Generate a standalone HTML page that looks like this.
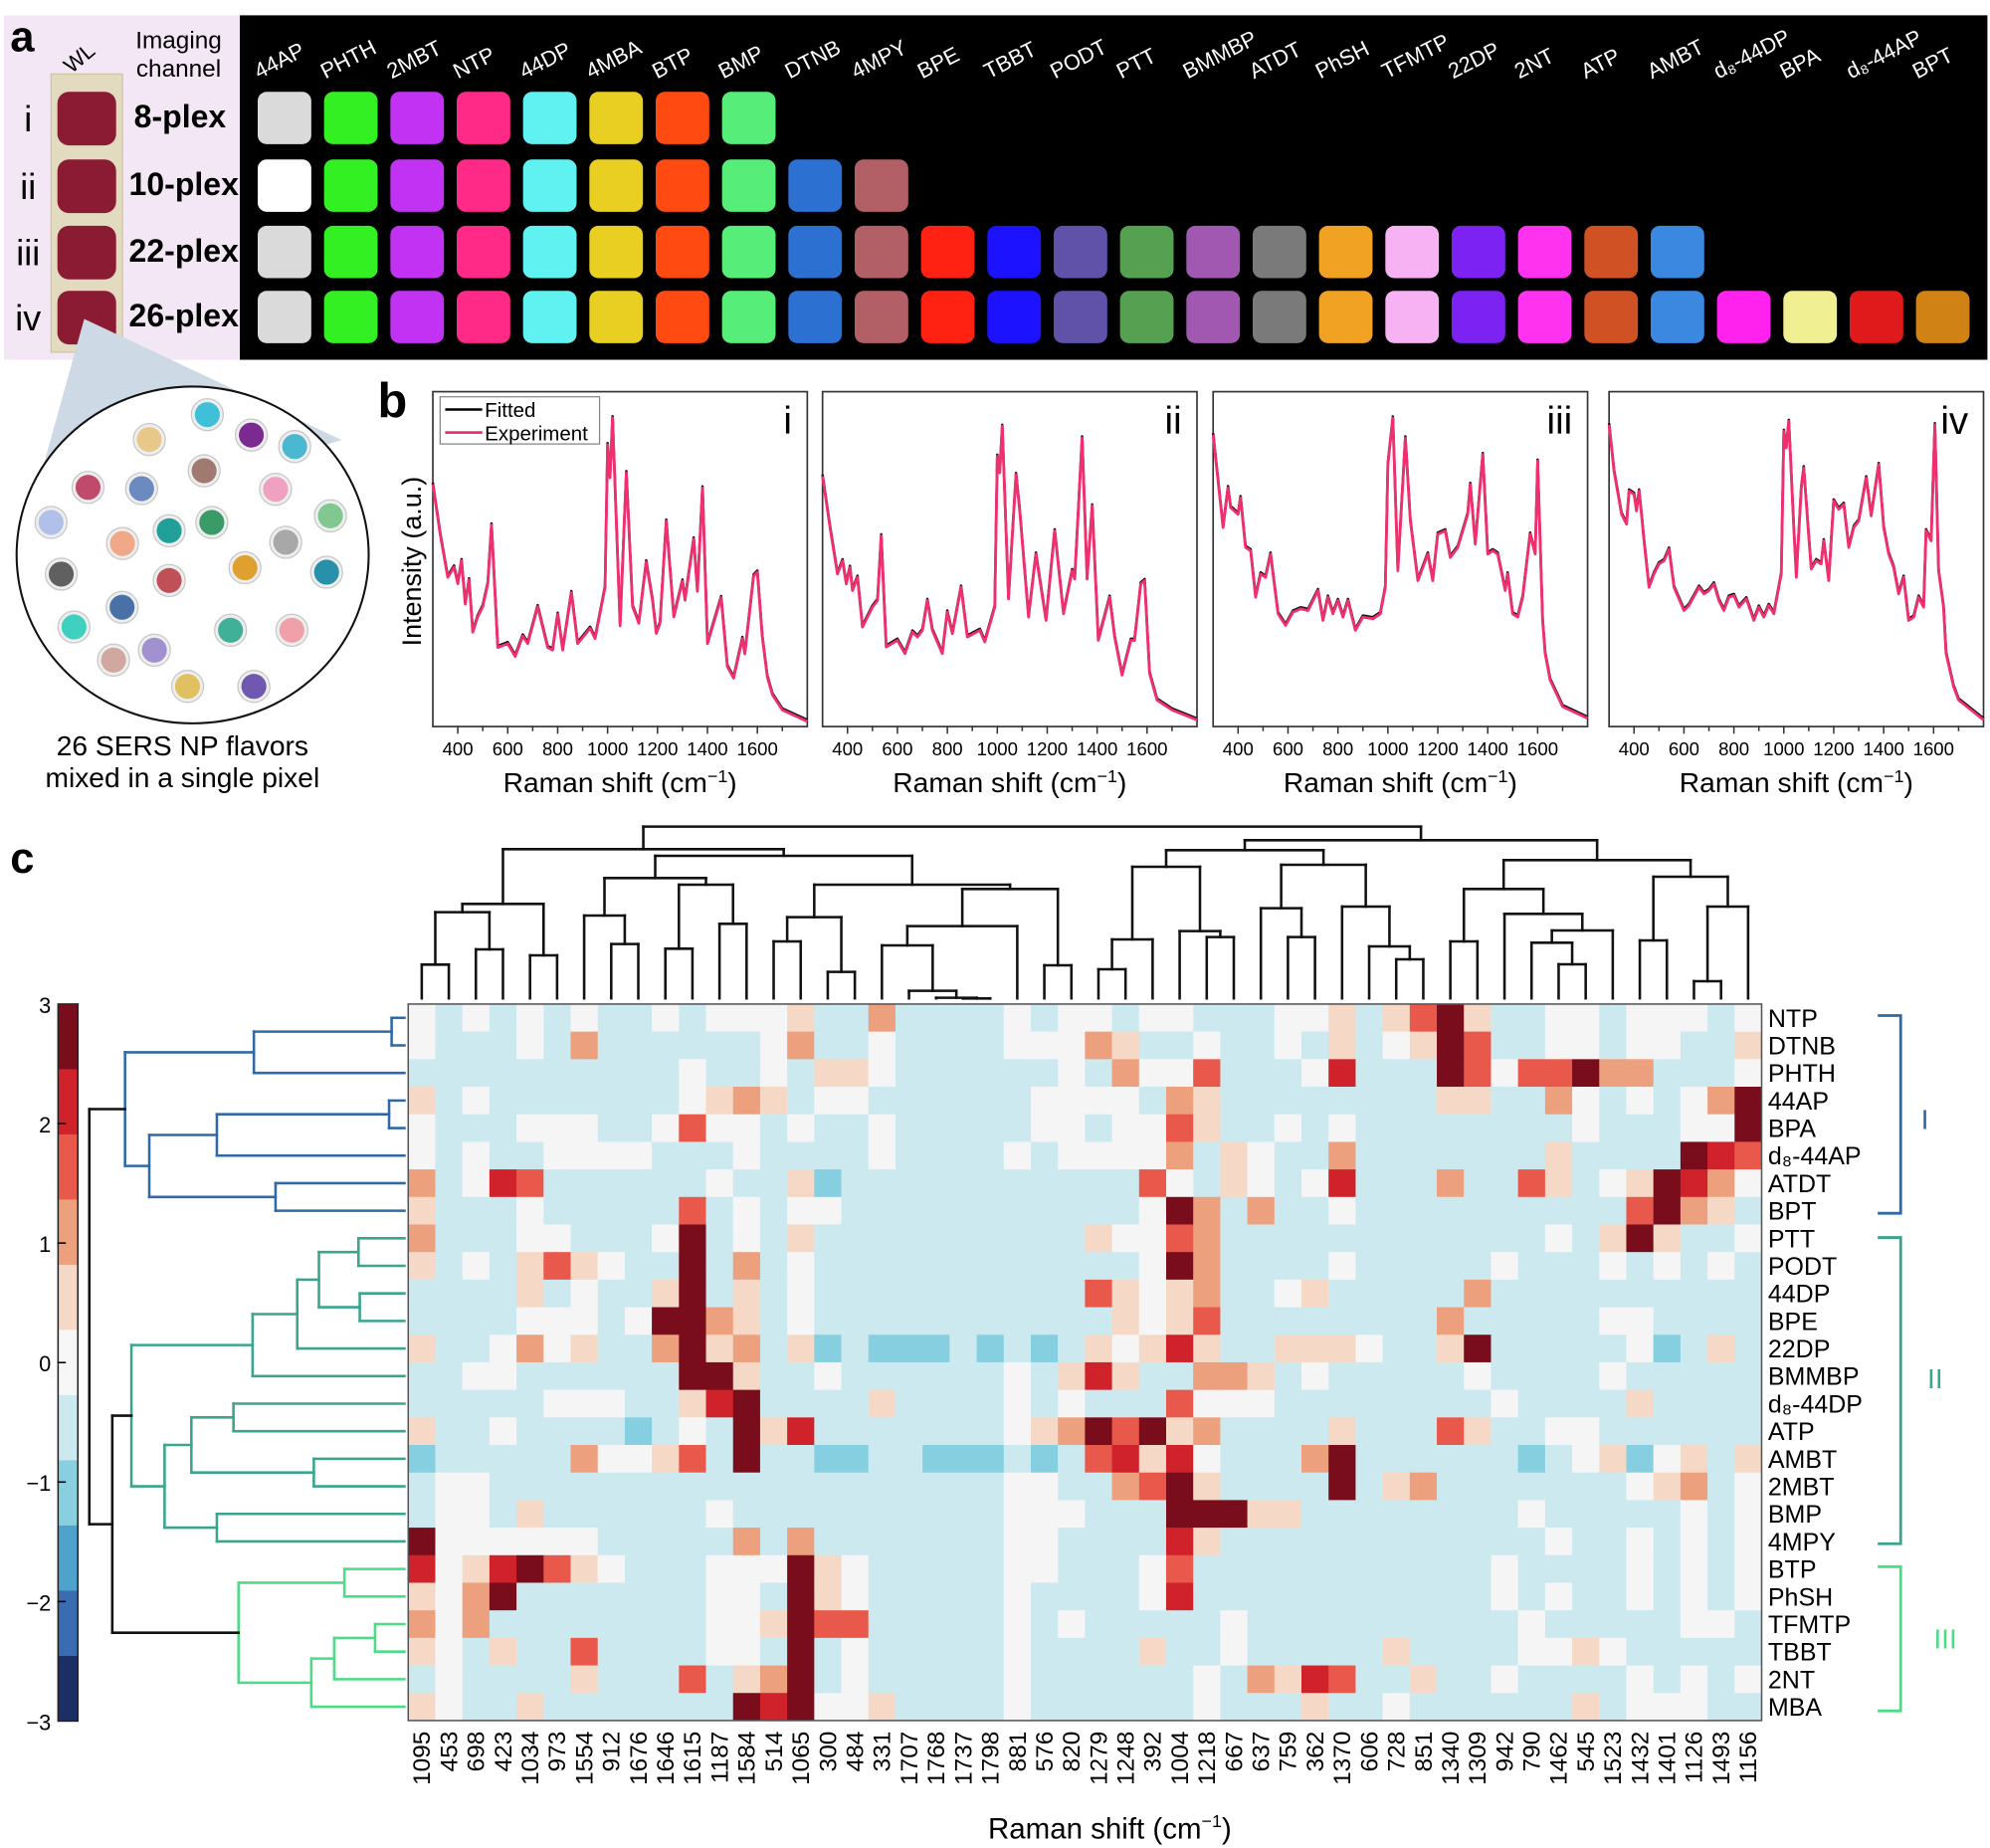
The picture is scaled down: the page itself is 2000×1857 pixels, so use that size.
<!DOCTYPE html>
<html><head><meta charset="utf-8"><style>
html,body{margin:0;padding:0;background:#fff;}
svg{display:block;font-family:"Liberation Sans",Arial,sans-serif;}
</style></head><body>
<svg id="s" xmlns="http://www.w3.org/2000/svg" width="2000" height="1857" viewBox="0 0 1560 1448.5">
<rect x="0" y="0" width="1560" height="1448.5" fill="#fff"/>
</svg>
<script>
(function(){
const NS="http://www.w3.org/2000/svg";const S=document.getElementById('s');
function el(t,a,txt,p){const e=document.createElementNS(NS,t);for(const k in a)e.setAttribute(k,a[k]);if(txt!==undefined&&txt!==null)e.textContent=txt;(p||S).appendChild(e);return e;}
function ln(x1,y1,x2,y2,c,w){el('line',{x1,y1,x2,y2,stroke:c||'#000','stroke-width':w||1.6,'stroke-linecap':'square'});}

/* ---------- panel a ---------- */
el('rect',{x:3,y:12,width:186,height:270,fill:'#f3e7f5'});
el('rect',{x:188,y:12,width:1370,height:270,fill:'#000'});
el('text',{x:8,y:40,'font-size':34,'font-weight':'bold'},'a');
el('text',{x:0,y:0,'font-size':17,transform:'translate(56,58) rotate(-40)'},'WL');
el('text',{x:140,y:38,'font-size':19,'text-anchor':'middle'},'Imaging');
el('text',{x:140,y:60,'font-size':19,'text-anchor':'middle'},'channel');
el('rect',{x:40,y:58,width:56,height:218,fill:'#e2dbbf',stroke:'#cfc5a3'});
const rowsY=[72,125,177,228];
const romans=['i','ii','iii','iv'],plex=['8-plex','10-plex','22-plex','26-plex'],nsq=[8,10,22,26];
rowsY.forEach((y,i)=>{
 el('rect',{x:45,y:y,width:46,height:42,rx:9,fill:'#8b1b32'});
 el('text',{x:22,y:y+31,'font-size':28,'text-anchor':'middle'},romans[i]);
 el('text',{x:i==0?105:101,y:y+28,'font-size':25,'font-weight':'bold'},plex[i]);
});
const names=['44AP','PHTH','2MBT','NTP','44DP','4MBA','BTP','BMP','DTNB','4MPY','BPE','TBBT','PODT','PTT','BMMBP','ATDT','PhSH','TFMTP','22DP','2NT','ATP','AMBT','d₈-44DP','BPA','d₈-44AP','BPT'];
const cols=['#dadada','#33f022','#c232f2','#ff2a88','#60f2f0','#e8cf22','#ff4a12','#56ee78','#2c70d2','#b26066','#ff2212','#1c12ff','#5f52a8','#56a052','#a058b0','#7a7a7a','#f2a222','#f6b2f2','#7c22f2','#ff32f0','#d05224','#3a88e0','#ff22ee','#f0f092','#e01a1a','#d08214'];
names.forEach((n,i)=>{
 const x=202+52*i;
 el('text',{x:0,y:0,'font-size':17,fill:'#fff',transform:`translate(${x+1},${62}) rotate(-27)`},n);
 rowsY.forEach((y,r)=>{ if(i<nsq[r]){ let c=cols[i]; if(i==0&&r==1)c='#ffffff';
  el('rect',{x:x,y:y,width:42,height:41,rx:7,fill:c}); }});
});
/* circle */
el('polygon',{points:'66,250 20,415 268,345',fill:'#cdd9e4'});
el('ellipse',{cx:151,cy:435,rx:138,ry:132,fill:'#fff',stroke:'#111','stroke-width':1.6});
const beads=[[162.5,325,'#3fc0d8'],[117,344.5,'#e8c889'],[197,341,'#7a2a90'],[231,350,'#4ab8d0'],[69,382,'#c04a6a'],[111,383,'#6a8ac0'],[160,369,'#a07a70'],[216,383.5,'#f0a0c0'],[40,409.5,'#b0c0e8'],[96,426,'#f0a888'],[132.6,416,'#20a098'],[166,409.5,'#3a9a68'],[259,404.3,'#80c890'],[224,425,'#a8a8a8'],[48,450,'#606060'],[132.6,455,'#c05058'],[192,445,'#e0a030'],[256,448.5,'#2890a8'],[95.7,476,'#4a70a8'],[58,491.4,'#40d0c0'],[89,517.4,'#d0a8a0'],[121,509.6,'#a090d0'],[180.7,494,'#40b098'],[228.8,494,'#f0a0a8'],[147,538,'#e0c060'],[199,538,'#7058b0']];
beads.forEach(b=>{el('circle',{cx:b[0],cy:b[1],r:12.5,fill:'#eee',stroke:'#c8c8c8','stroke-width':1});el('circle',{cx:b[0],cy:b[1],r:9.8,fill:b[2]});});
el('text',{x:143,y:592,'font-size':22,'text-anchor':'middle'},'26 SERS NP flavors');
el('text',{x:143,y:617,'font-size':22,'text-anchor':'middle'},'mixed in a single pixel');

/* ---------- panel b ---------- */
el('text',{x:296,y:327,'font-size':38,'font-weight':'bold'},'b');
el('text',{x:0,y:0,'font-size':21,'text-anchor':'middle',transform:'translate(330,440) rotate(-90)'},'Intensity (a.u.)');
const lefts=[339.3,644.8,951,1261.4],ku=0.1957,ptop=307,pbot=569.5;
const spI=[[300,190],[330,150],[360,117],[385,125],[400,112],[415,130],[430,96],[445,115],[460,74],[480,86],[500,94],[520,112],[535,158],[560,62],[600,65],[630,55],[660,71],[680,65],[720,94],[760,62],[780,60],[800,88],[820,60],[855,105],[880,65],[930,77],[950,69],[990,109],[1000,221],[1010,195],[1020,242],[1050,79],[1075,199],[1100,94],[1125,81],[1155,129],[1180,99],[1195,73],[1210,81],[1235,161],[1265,86],[1300,114],[1310,99],[1345,147],[1360,106],[1380,187],[1400,65],[1455,101],[1480,47],[1505,38],[1540,69],[1550,57],[1585,118],[1600,121],[1620,70],[1640,39],[1660,25],[1700,13],[1800,4]];
const z2=a=>a.map(p=>[p[0],(1020-p[1])/3.846]);
const spII=z2([[300,265],[330,420],[360,560],[380,520],[395,590],[410,540],[420,610],[440,570],[460,720],[480,690],[500,660],[520,640],[535,445],[555,780],[600,760],[630,800],[660,735],[680,750],[700,730],[720,640],[740,730],[780,800],[800,675],[820,740],[855,600],[880,750],[930,730],[950,765],[990,660],[1000,205],[1010,255],[1020,115],[1045,635],[1075,260],[1090,370],[1125,690],[1155,500],[1195,700],[1230,430],[1265,680],[1300,550],[1310,575],[1340,150],[1360,575],[1380,355],[1405,760],[1450,630],[1470,750],[1500,865],[1535,760],[1550,760],[1575,590],[1590,580],[1610,860],[1640,940],[1700,970],[1800,1000]]);
const spIII=z2([[300,140],[340,420],[360,300],[370,360],[400,380],[410,330],[430,480],[450,490],[470,630],[490,560],[510,570],[530,500],[560,680],[590,715],[620,675],[650,665],[680,670],[700,640],[720,610],[740,700],[760,630],[780,680],[800,640],[820,690],[840,640],[870,730],[900,690],[940,695],[970,680],[990,600],[1000,230],[1020,90],[1040,550],[1070,150],[1090,400],[1120,580],[1160,500],[1180,580],[1200,440],[1230,430],[1250,510],[1280,480],[1320,380],[1330,290],[1350,470],[1380,200],[1400,500],[1420,490],[1440,500],[1470,610],[1480,560],[1500,680],[1520,690],[1540,630],[1570,440],[1590,500],[1600,220],[1620,700],[1630,800],[1650,880],[1700,960],[1800,995]]);
const spIV=z2([[300,110],[320,250],[350,380],[370,410],[380,310],[400,320],[410,370],[420,310],[430,380],[440,460],[460,600],[480,560],[500,530],[520,520],[540,485],[560,600],[600,670],[620,655],[660,600],[680,620],[700,610],[720,590],[740,640],[760,670],[780,630],[800,625],[820,660],[850,635],[880,700],[900,660],[920,690],[940,655],[960,680],[990,560],[1000,130],[1010,180],[1020,100],[1040,420],[1050,570],[1070,300],[1080,240],[1100,450],[1110,545],[1130,520],[1150,530],[1160,460],[1180,580],[1200,340],[1220,365],[1240,350],[1260,480],[1280,420],[1300,400],[1330,270],[1350,385],[1380,230],[1400,420],[1420,500],[1440,540],[1460,620],[1480,570],[1500,700],[1520,690],[1540,630],[1560,660],[1570,430],[1590,460],[1605,110],[1620,550],[1640,660],[1650,800],[1680,900],[1700,940],[1800,1000]]);
const specs=[spI,spII,spIII,spIV],rn=['i','ii','iii','iv'];
lefts.forEach((L,k)=>{
 const W=1500*ku;
 el('rect',{x:L,y:ptop,width:W,height:pbot-ptop,fill:'none',stroke:'#333','stroke-width':1.3});
 for(let u=400;u<=1700;u+=100){const x=L+(u-300)*ku;ln(x,pbot,x,pbot+(u%200==0?5:3),'#333',1.2);}
 for(let u=400;u<=1600;u+=200){el('text',{x:L+(u-300)*ku,y:592,'font-size':14.5,'text-anchor':'middle'},String(u));}
 const t=el('text',{x:L+W/2,y:621,'font-size':22,'text-anchor':'middle'},'Raman shift (cm');
 el('tspan',{dy:-8,'font-size':14},'−1',t);el('tspan',{dy:8},')',t);
 el('text',{x:L+W-12,y:340,'font-size':30,'text-anchor':'end'},rn[k]);
 const pts=specs[k].map(p=>[(L+(p[0]-300)*ku).toFixed(1),(pbot-p[1]).toFixed(1)]);
 el('polyline',{points:pts.map(p=>p[0]+','+(p[1]-1.2)).join(' '),fill:'none',stroke:'#111','stroke-width':2,'stroke-linejoin':'round'});
 el('polyline',{points:pts.map(p=>p.join(',')).join(' '),fill:'none',stroke:'#f0306e','stroke-width':2.2,'stroke-linejoin':'round'});
});
el('rect',{x:345,y:311,width:125,height:37,fill:'#fff',stroke:'#888','stroke-width':1});
ln(350,321,377,321,'#000',2);ln(350,339,377,339,'#f0306e',2.2);
el('text',{x:380,y:327,'font-size':16},'Fitted');el('text',{x:380,y:345,'font-size':16},'Experiment');

/* ---------- panel c ---------- */
el('text',{x:8,y:684,'font-size':34,'font-weight':'bold'},'c');
const X0=320,CW=21.22,Y0=787,RH=21.6;
const cmap={'.':'#cde9f0','w':'#f5f5f5','p':'#f5d9c6','o':'#eda07e','r':'#e9594b','R':'#d0222b','d':'#7a0d1b','b':'#86cfe0'};
const MAT=["0w2w4w6w9w11w12w13w14p17o22w24w25w27w28w32w33w34p36p37r38d39p42w43w45w46w47w49w",
"0w4w6o13w14o17w22w23w24w25o26p29w32w34p36w37p38d39r42w43w45w46w49p",
"10w13w15p16p17w24w26o27w28w29r33w34R38d39r40w41r42r43d44o45o49w",
"0p2w10w11p12o13p15w16w23w24w25w26w28o29p38p39p42o43w45w47w48o49d",
"0w4w5w6w9w10r11w12w14w17w23w24w26w27w28r29p32w34w43w47w48w49d",
"0w2w5w6w7w8w12w17w22w24w25w26w27w28o30p31w34o42p47d48R49r",
"0o2w3R4r11w14p15b27r28w30p31w33w34R38o41r42p44w45p46d47R48o49w",
"0p4w10r12w14w15w27w28d29o31o34w45r46d47o48p",
"0o4w5w9w10d12w14p25p26w27w28r29o42w44p45d46p49w",
"0p2w4p5r6p7w10d12o14w27w28d29o34w40w44w46w48w",
"4p6w9p10d12p14w25r26p27w28p29o32w33p39o",
"4w5w6w8w9d10d11o12p14w26p27w28p29r38o44w45w",
"0p3w4o5w6p9o10d11p12o14p15b17b18b19b21b23b25p26w27p28R29p32p33p34p35w38p39d45w46b48p",
"2w3w10d11d12p15w22w24p25R26p29o30o31p33w39w44w",
"5w6w7w10p11R12d17p22w24w28r29w30w31w40w45p",
"0p3w8b10w12d13p14R22w23p24o25d26r27d28p29o34p38r39p42w43w",
"0b6o7w8w9p10r12d15b16b19b20b21b23b25r26R27p28R29w33o34d41b43w44p45b46w47p49p",
"1w2w22w23w26o27r28d29p34d36p37o45w46p47o49w",
"1w2w4p11w22w23w24w28d29d30d31p32p41w47w49w",
"0d1w2w3w4w5w6w12o14o22w23w28R29p42w45w47w49w",
"0R1w2p3R4d5r6p7w11w12w13w14d15p16w22w23w27w28r40w45w47w49w",
"0p1w2o3d11w12w14d15p16w22w27w28R40w42w45w47w49w",
"0o1w2o11w12w13p14d15r16r22w24w30w41w47w48w",
"0p1w3p6r11w12w14d16w22w27p30w36p41w42w43p44w",
"1w6p10r12p13o14d16w22w29w31o32p33R34r37p40w45w47w49w",
"0p1w4p12d13R14d15w16w17p22w29w33p36w43p45w46w47w"];
MAT.forEach((s,r)=>{const row=new Array(50).fill('.');s.replace(/(\d+)([a-zA-Z.])/g,(m,c,k)=>{row[+c]=k;return m;});
 row.forEach((k,c)=>el('rect',{x:(X0+CW*c).toFixed(2),y:(Y0+RH*r).toFixed(2),width:CW+0.4,height:RH+0.4,fill:cmap[k]}));});
el('rect',{x:X0,y:Y0,width:CW*50,height:RH*26,fill:'none',stroke:'#555','stroke-width':1.2});
const colL=['1095','453','698','423','1034','973','1554','912','1676','1646','1615','1187','1584','514','1065','300','484','331','1707','1768','1737','1798','881','576','820','1279','1248','392','1004','1218','667','637','759','362','1370','606','728','851','1340','1309','942','790','1462','545','1523','1432','1401','1126','1493','1156'];
colL.forEach((t,c)=>{const x=X0+CW*(c+0.5)+6.5;el('text',{x:0,y:0,'font-size':19,'text-anchor':'end',transform:`translate(${x.toFixed(1)},1357) rotate(-90)`},t);});
const rowL=['NTP','DTNB','PHTH','44AP','BPA','d₈-44AP','ATDT','BPT','PTT','PODT','44DP','BPE','22DP','BMMBP','d₈-44DP','ATP','AMBT','2MBT','BMP','4MPY','BTP','PhSH','TFMTP','TBBT','2NT','MBA'];
rowL.forEach((t,r)=>el('text',{x:1386,y:(Y0+RH*(r+0.5)+7).toFixed(1),'font-size':19.5},t));
const xt=el('text',{x:870,y:1441,'font-size':23,'text-anchor':'middle'},'Raman shift (cm');el('tspan',{dy:-9,'font-size':14},'−1',xt);el('tspan',{dy:9},')',xt);
/* brackets */
[[796,951,'#2f6aa6','I',1509,885],[970,1210,'#3aa58c','II',1517,1088],[1228,1341,'#4cdc86','III',1525,1292]].forEach(b=>{
 el('polyline',{points:`1472,${b[0]} 1490,${b[0]} 1490,${b[1]} 1472,${b[1]}`,fill:'none',stroke:b[2],'stroke-width':2.2});
 el('text',{x:b[4],y:b[5],'font-size':22,fill:b[2],'text-anchor':'middle'},b[3]);});
/* color bar */
const cb=['#7a0d1b','#d0222b','#e9594b','#eda07e','#f5d9c6','#f6f6f6','#cde9f0','#88cfe0','#4ea3cc','#3a6cb2','#1b2f66'];
const cbh=(1349-787)/11;
cb.forEach((c,i)=>el('rect',{x:45.5,y:787+cbh*i,width:15.5,height:cbh+0.3,fill:c}));
el('rect',{x:45.5,y:787,width:15.5,height:562,fill:'none',stroke:'#222','stroke-width':1.2});
['3','2','1','0','−1','−2','−3'].forEach((t,i)=>{const y=787+i*562/6;el('text',{x:40,y:y+7,'font-size':17,'text-anchor':'end'},t);if(i>0&&i<6)ln(45.5,y,51,y,'#000',1.2);});
/* left dendrogram */
function drawL(n){ if(typeof n==='number')return{x:317,y:Y0+RH*(n+0.5)};
 const a=drawL(n[0]),b=drawL(n[1]),x=n[2],c=n[3];
 ln(a.x,a.y,x,a.y,c,2);ln(b.x,b.y,x,b.y,c,2);ln(x,a.y,x,b.y,c,2);return{x,y:(a.y+b.y)/2};}
const CB='#2f6aa6',CT='#3aa58c',CG='#4cdc86',CK='#111';
const blue=[[[0,1,307,CB],2,199,CB],[[[3,4,305,CB],5,170,CB],[6,7,216,CB],117,CB],98,CB];
const teal=[[[[[8,9,281,CT],[10,11,282,CT],250,CT],12,233,CT],13,198,CT],[[[14,15,183,CT],[16,17,246,CT],150,CT],[18,19,170,CT],129,CT],103,CT];
const green=[[20,21,270,CG],[[[22,23,294,CG],24,262,CG],25,244,CG],187,CG];
drawL([blue,[teal,green,88,CK],70,CK]);
/* top dendrogram */
const yz=z=>655.2+0.26*z;
function drawT(n){ if(typeof n==='number')return{x:X0+CW*(n+0.5),y:782.5};
 const a=drawT(n[0]),b=drawT(n[1]),y=yz(n[2]);
 ln(a.x,a.y,a.x,y,CK,2);ln(b.x,b.y,b.x,y,CK,2);ln(a.x,y,b.x,y,CK,2);return{x:(a.x+b.x)/2,y};}
const L1=[[[0,1,388],[2,3,342],230],[4,5,360],205];
const L2=[[6,[7,8,326],240],[[9,10,340],[11,12,265],147],127];
const Tn=[18,[19,[20,21,490],488],467];
const L3=[[[13,14,318],[15,16,410],245],[[[17,Tn,330],22,272],[23,24,390],160],147];
const LEFT=[L1,[L2,L3,60],40];
const R1=[[[[25,26,402],27,312],[28,[29,30,305],287],93],[[31,[32,33,305],218],[34,[35,[36,37,372],333],213],87],43];
const R2=[[[38,39,318],[40,[[41,[42,43,387],322],44,285],235],160],[[45,46,315],[[47,48,438],49,213],123],73];
const RIGHT=[R1,R2,13];
drawT([LEFT,RIGHT,-28]);
})();
</script>
</body></html>
